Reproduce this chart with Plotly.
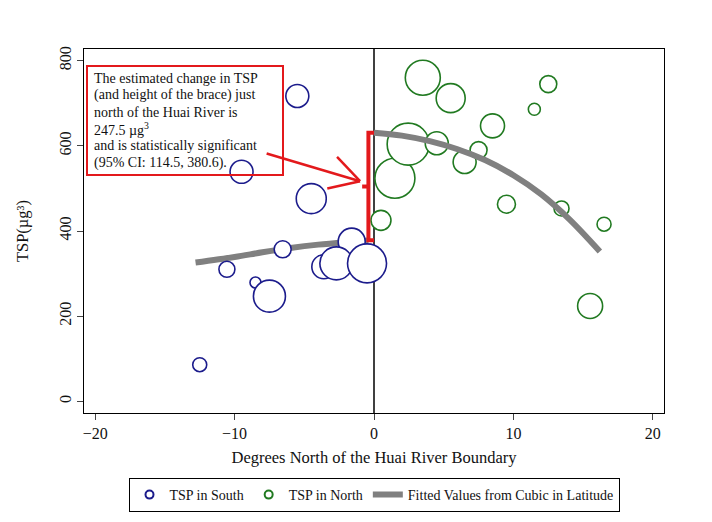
import plotly.graph_objects as go

# ---- data ----
south_lat = [-5.5, -9.5, -4.5, -6.55, -10.55, -8.5, -7.5, -12.5, -1.6, -3.6, -2.7, -0.5]
south_tsp = [717, 539, 476, 357, 310, 279, 247, 86, 375, 316, 324, 324]
south_wt = [23, 23, 30, 17, 16, 11, 32, 14, 27, 24, 33, 39]

north_lat = [3.5, 5.5, 12.5, 11.5, 8.5, 1.5, 2.45, 4.5, 7.5, 6.5, 0.5, 9.5, 13.45, 16.5, 15.5]
north_tsp = [760, 712, 745, 686, 647, 524, 604, 606, 590, 562, 425, 463, 453, 416, 224]
north_wt = [35, 29, 17, 12, 24, 40, 42, 23, 17, 23, 20, 18, 15, 14, 25]

fit_s_lat = [-12.8, -10, -8, -6, -4, -2, -0.4]
fit_s_tsp = [326, 339, 350, 360, 368, 374, 378]
fit_n_lat = [0, 2, 4, 6, 8, 10, 12, 14, 16.2]
fit_n_tsp = [631, 624, 611, 592, 566, 531, 486, 428, 352]

x_ticks = [-20, -10, 0, 10, 20]
y_ticks = [0, 200, 400, 600, 800]

note_lines = [
    "The estimated change in TSP",
    "(and height of the brace) just",
    "north of the Huai River is",
    "247.5 \u00b5g<sup>3</sup>",
    "and is statistically significant",
    "(95% CI: 114.5, 380.6).",
]

BLUE = "#1c1c8c"
GREEN = "#217a21"
GRAY = "#808080"
RED = "#e3191c"
FONT = "Liberation Serif"

# page body has an 8px margin, so the figure is drawn 8px in from the window edge
OFF = 8
W, H = 712 - OFF, 522 - OFF
PL, PR, PT, PB = 84 - OFF, 664 - OFF, 49 - OFF, 413 - OFF  # plot box inside the figure
PW, PH = PR - PL, PB - PT


def px_x(p):
    return (p - OFF - PL) / PW


def px_y(p):
    return (PB - (p - OFF)) / PH


fig = go.Figure()

fig.add_trace(go.Scatter(x=fit_s_lat, y=fit_s_tsp, mode="lines", line_shape="spline",
                         line=dict(color=GRAY, width=6), showlegend=False, hoverinfo="skip"))
fig.add_trace(go.Scatter(x=south_lat, y=south_tsp, mode="markers", showlegend=False,
                         marker=dict(size=south_wt, color="white", opacity=1,
                                     line=dict(color=BLUE, width=1.6))))
fig.add_trace(go.Scatter(x=north_lat, y=north_tsp, mode="markers", showlegend=False,
                         marker=dict(size=north_wt, color="white", opacity=1,
                                     line=dict(color=GREEN, width=1.6))))
fig.add_trace(go.Scatter(x=fit_n_lat, y=fit_n_tsp, mode="lines", line_shape="spline",
                         line=dict(color=GRAY, width=6), showlegend=False, hoverinfo="skip"))

# legend entries
fig.add_trace(go.Scatter(x=[None], y=[None], mode="markers", name="TSP in South",
                         marker=dict(size=8, color="white", line=dict(color=BLUE, width=2))))
fig.add_trace(go.Scatter(x=[None], y=[None], mode="markers", name="TSP in North",
                         marker=dict(size=8, color="white", line=dict(color=GREEN, width=2))))
fig.add_trace(go.Scatter(x=[None], y=[None], mode="lines", name="Fitted Values from Cubic in Latitude",
                         line=dict(color=GRAY, width=6)))

# vertical boundary line
fig.add_shape(type="line", xref="x", yref="paper", x0=0, x1=0, y0=0, y1=1,
              line=dict(color="black", width=1.5), layer="below")

# brace between the two fits at the boundary
top = fit_n_tsp[0]
bot = fit_s_tsp[-1]
bx = -0.4
mid = (top + bot) / 2
fig.add_shape(type="path",
              path=f"M 0,{top} L {bx},{top} L {bx},{bot} L 0,{bot}",
              line=dict(color=RED, width=4))
fig.add_shape(type="line", x0=bx, x1=bx - 0.45, y0=mid, y1=mid,
              line=dict(color=RED, width=4))

# arrow
tip = (-1.0, 517)
fig.add_shape(type="line", x0=-7.7, y0=582, x1=tip[0], y1=tip[1], line=dict(color=RED, width=2.5))
fig.add_shape(type="line", x0=-2.65, y0=574, x1=tip[0], y1=tip[1], line=dict(color=RED, width=2.5))
fig.add_shape(type="line", x0=-3.35, y0=500, x1=tip[0], y1=tip[1], line=dict(color=RED, width=2.5))

# note box
fig.add_shape(type="rect", xref="paper", yref="paper",
              x0=px_x(87), x1=px_x(283), y0=px_y(175), y1=px_y(66),
              line=dict(color=RED, width=2), fillcolor="rgba(0,0,0,0)")
for i, line in enumerate(note_lines):
    fig.add_annotation(xref="paper", yref="paper", x=px_x(92), y=px_y(78.3 + 16.9 * i),
                       xanchor="left", yanchor="middle", align="left", showarrow=False,
                       text=line, font=dict(family=FONT, size=14, color="#111111"))

fig.update_layout(
    width=W, height=H,
    margin=dict(l=PL, r=W - PR, t=PT, b=H - PB, autoexpand=False),
    paper_bgcolor="white", plot_bgcolor="white",
    font=dict(family=FONT, color="#111111"),
    legend=dict(orientation="h", x=0.5, xanchor="center", y=px_y(478), yanchor="top",
                bordercolor="black", borderwidth=1, font=dict(family=FONT, size=14),
                itemwidth=30),
)
fig.update_xaxes(range=[-20.8, 20.8], tickvals=x_ticks, ticks="outside", ticklen=6,
                 showline=True, linecolor="black", linewidth=1, mirror=True, automargin=False,
                 showgrid=False, zeroline=False, tickfont=dict(size=16),
                 title=dict(text="Degrees North of the Huai River Boundary",
                            font=dict(size=16.5), standoff=10))
fig.update_yaxes(range=[-27.5, 827.5], tickvals=y_ticks, ticks="outside", ticklen=6,
                 showline=True, linecolor="black", linewidth=1, mirror=True, automargin=False,
                 showgrid=False, zeroline=False, tickangle=-90, tickfont=dict(size=16),
                 title=dict(text="TSP(\u00b5g\u00b3)", font=dict(size=16.5), standoff=23))

fig.write_html("out.html")
